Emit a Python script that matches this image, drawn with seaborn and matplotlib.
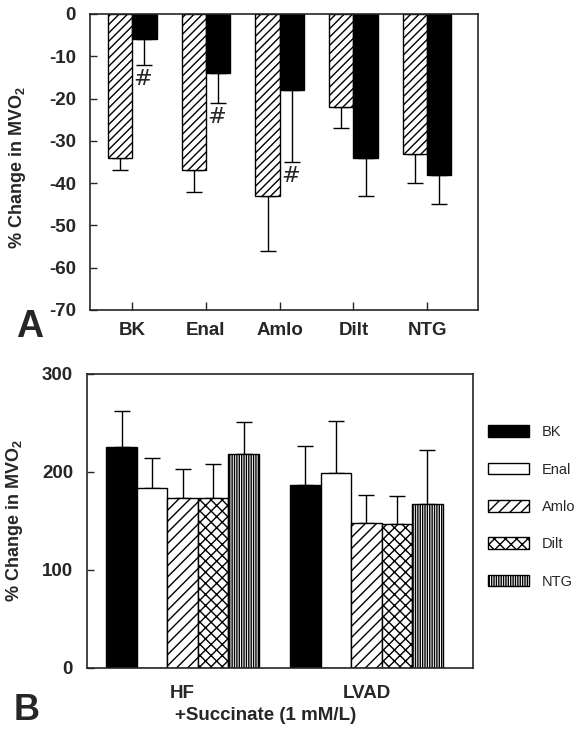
import pandas as pd
import matplotlib
matplotlib.use("Agg")
import matplotlib.pyplot as plt
import seaborn as sns

# Panel A data: % change in MVO2 per drug (two series)
drugs = ["BK", "Enal", "Amlo", "Dilt", "NTG"]
a_hatched_mean = [-34, -37, -43, -22, -33]
a_hatched_sem = [3, 5, 13, 5, 7]
a_solid_mean = [-6, -14, -18, -34, -38]
a_solid_sem = [6, 7, 17, 9, 7]
a_marked = ["BK", "Enal", "Amlo"]  # solid bars flagged with '#'
a_yticks = [0, -10, -20, -30, -40, -50, -60, -70]

# Panel B data: + succinate, HF vs LVAD
b_groups = ["HF", "LVAD"]
b_hf_mean = [225, 184, 173, 173, 218]
b_hf_sem = [37, 30, 30, 35, 33]
b_lvad_mean = [187, 199, 148, 147, 167]
b_lvad_sem = [40, 53, 29, 28, 55]
b_yticks = [0, 100, 200, 300]

sns.set_style("ticks")
plt.rcParams["font.family"] = ["Liberation Sans", "DejaVu Sans"]
plt.rcParams["mathtext.fontset"] = "custom"
plt.rcParams["mathtext.bf"] = "Liberation Sans:bold"
plt.rcParams["mathtext.rm"] = "Liberation Sans:bold"
plt.rcParams["mathtext.default"] = "bf"
plt.rcParams["hatch.linewidth"] = 1.0
plt.rcParams["axes.linewidth"] = 1.2

fig = plt.figure(figsize=(5.82, 7.29), dpi=100)
ax_a = fig.add_axes([0.1546, 0.5748, 0.6667, 0.406])
ax_b = fig.add_axes([0.1495, 0.0837, 0.6632, 0.4033])

ylabel = r"% Change in MVO$_2$"
tick_font = dict(fontsize=13.5, fontweight="bold")

# ---------------- Panel A ----------------
df_a = pd.DataFrame({
    "drug": drugs * 2,
    "series": ["hatched"] * len(drugs) + ["solid"] * len(drugs),
    "value": a_hatched_mean + a_solid_mean,
    "sem": a_hatched_sem + a_solid_sem,
})

sns.barplot(data=df_a, x="drug", y="value", hue="series", order=drugs,
            hue_order=["hatched", "solid"], palette=["white", "black"],
            saturation=1, width=0.66, errorbar=None, edgecolor="black",
            linewidth=1, legend=False, ax=ax_a)

for bar in ax_a.containers[0]:
    bar.set_hatch("////")

for cont, series in zip(ax_a.containers, ["hatched", "solid"]):
    sub = df_a[df_a["series"] == series]
    xs = [b.get_x() + b.get_width() / 2 for b in cont]
    ax_a.errorbar(xs, sub["value"], yerr=[sub["sem"], [0] * len(sub)],
                  fmt="none", ecolor="black", elinewidth=1, capsize=5.8,
                  capthick=1, zorder=0.5)
    if series == "solid":
        for x, (_, row) in zip(xs, sub.iterrows()):
            if row["drug"] in a_marked:
                ax_a.annotate("#", xy=(x, row["value"] - row["sem"]),
                              xytext=(-1, -3), textcoords="offset points",
                              ha="center", va="top", fontsize=16,
                              family="DejaVu Sans")

ax_a.set_xlim(-0.574, 4.69)
ax_a.set_ylim(-70, 0)
ax_a.set_yticks(a_yticks)
ax_a.set_yticklabels([str(t) for t in a_yticks], **tick_font)
ax_a.set_xticks(range(len(drugs)))
ax_a.set_xticklabels(drugs, **tick_font)
ax_a.tick_params(axis="x", direction="in", length=6, width=1, pad=9)
ax_a.tick_params(axis="y", direction="in", length=5, width=1, pad=10)
ax_a.set_xlabel("")
ax_a.set_ylabel(ylabel, fontsize=13, fontweight="bold")
ax_a.yaxis.set_label_coords(-0.16, 0.48)
for s in ax_a.spines.values():
    s.set_visible(True)

# ---------------- Panel B ----------------
df_b = pd.DataFrame({
    "group": [g for g in b_groups for _ in drugs],
    "drug": drugs * 2,
    "value": b_hf_mean + b_lvad_mean,
    "sem": b_hf_sem + b_lvad_sem,
})

sns.barplot(data=df_b, x="group", y="value", hue="drug", order=b_groups,
            hue_order=drugs, palette=["black", "white", "white", "white", "white"],
            saturation=1, width=0.83, errorbar=None, edgecolor="black",
            linewidth=1, ax=ax_b)

hatches = {"BK": "", "Enal": "", "Amlo": "///", "Dilt": "xxx", "NTG": "|||||||"}
for cont, drug in zip(ax_b.containers, drugs):
    for bar in cont:
        bar.set_hatch(hatches[drug])
    sub = df_b[df_b["drug"] == drug]
    xs = [b.get_x() + b.get_width() / 2 for b in cont]
    ax_b.errorbar(xs, sub["value"], yerr=[[0] * len(sub), sub["sem"]],
                  fmt="none", ecolor="black", elinewidth=1, capsize=5.5,
                  capthick=1, zorder=0.5)

handles = [plt.Rectangle((0, 0), 1, 1, facecolor=c.patches[0].get_facecolor(),
                         edgecolor="black", linewidth=1,
                         hatch=hatches[d]) for c, d in zip(ax_b.containers, drugs)]
ax_b.legend(handles, drugs, loc="upper left", bbox_to_anchor=(0.8385, 0.4166),
            bbox_transform=fig.transFigure, frameon=False, fontsize=10.5,
            handlelength=2.8, handleheight=0.85, labelspacing=1.6,
            handletextpad=0.9, borderpad=0, borderaxespad=0)

ax_b.set_xlim(-0.52, 1.58)
ax_b.set_ylim(0, 300)
ax_b.set_yticks(b_yticks)
ax_b.set_yticklabels([str(t) for t in b_yticks], **tick_font)
ax_b.set_xticks(range(len(b_groups)))
ax_b.set_xticklabels(b_groups, **tick_font)
ax_b.tick_params(axis="x", length=0, pad=12)
ax_b.tick_params(axis="y", direction="in", length=5, width=1, pad=10)
ax_b.set_xlabel("")
ax_b.set_ylabel(ylabel, fontsize=13, fontweight="bold")
ax_b.yaxis.set_label_coords(-0.16, 0.5)
for s in ax_b.spines.values():
    s.set_visible(True)

fig.text(0.457, 1 - 716 / 729, "+Succinate (1 mM/L)", ha="center", va="center",
         fontsize=13.5, fontweight="bold")
fig.text(16 / 582, 1 - 337 / 729, "A", fontsize=27, fontweight="bold", va="baseline")
fig.text(14 / 582, 0.002, "B", fontsize=26, fontweight="bold", va="bottom")

fig.savefig("out.png", dpi=100)
